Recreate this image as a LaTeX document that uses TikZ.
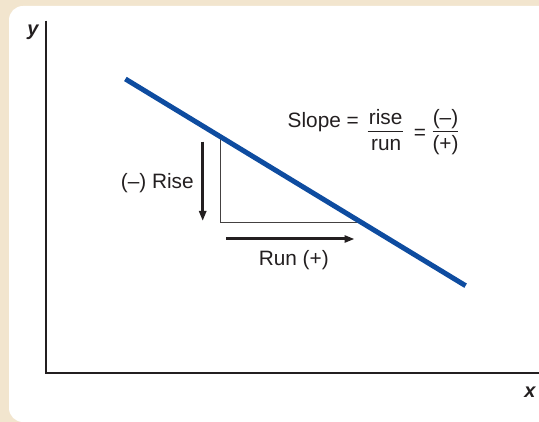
\documentclass[tikz,border=0pt]{standalone}
\usepackage{fontspec}
\setmainfont{Liberation Sans}
\usetikzlibrary{arrows.meta}
\definecolor{beige}{RGB}{242,229,206}
\definecolor{lineblue}{RGB}{14,76,160}
\definecolor{ink}{RGB}{35,31,32}
\begin{document}
\begin{tikzpicture}[x=1pt,y=-1pt,
  axis/.style={draw=ink,line width=2.2pt},
  slopeline/.style={draw=lineblue,line width=5pt},
  thinline/.style={draw=ink!85,line width=1pt},
  bigarrow/.style={draw=ink,line width=3pt,-{Triangle[length=10pt,width=7pt]}},
  fracbar/.style={draw=ink,line width=1.1pt},
  lbl/.style={inner sep=0pt,font=\fontsize{20.8}{24}\selectfont,text=ink},
  axlbl/.style={inner sep=0pt,font=\fontsize{20}{24}\selectfont\bfseries\itshape,text=ink}]
\useasboundingbox (0,0) rectangle (539,422);
\fill[beige] (0,0) rectangle (539,422);
\fill[white,rounded corners=14pt] (570,6) -- (9,6) -- (9,422) -- (570,422) -- cycle;
% axes
\coordinate (ytop) at (45.7,20.7);
\coordinate (xend) at (539,372.7);
\draw[axis] (ytop) |- (xend);
\node[axlbl,anchor=base] (ylab) at (33,35.4) {y};
\node[axlbl,anchor=base] (xlab) at (530,397.3) {x};
% slope line
\coordinate (lstart) at (125.4,79);
\coordinate (lend) at (465.6,285.7);
% triangle
\coordinate (ttop) at (220.6,139.5);
\coordinate (tcorner) at (220.6,222.7);
\coordinate (tright) at (360,222.7);
\draw[thinline] (ttop) -- (tcorner) -- (tright);
\draw[slopeline] (lstart) -- (lend);
% arrows
\coordinate (risetop) at (202.7,141.7);
\coordinate (risebot) at (202.7,221);
\draw[bigarrow] (risetop) -- (risebot);
\coordinate (runleft) at (226,239);
\coordinate (runright) at (354.5,239);
\draw[bigarrow] (runleft) -- (runright);
% labels
\node[lbl,anchor=base] (riselab) at (157.3,189) {(–) Rise};
\node[lbl,anchor=base] (runlab) at (293.8,265.7) {Run (+)};
% formula
\node[lbl,anchor=base west] (slope) at (287.5,127.3) {Slope =};
\node[lbl,anchor=base] (rise) at (385.7,125) {rise};
\node[lbl,anchor=base] (run) at (386.2,151) {run};
\coordinate (b1l) at (367.7,131.7);
\coordinate (b1r) at (403.3,131.7);
\draw[fracbar] (b1l) -- (b1r);
\node[lbl] (eq2) at (420,134) {=};
\node[lbl,anchor=base] (minus) at (445.5,125) {(–)};
\node[lbl,anchor=base] (plus) at (445.5,151) {(+)};
\coordinate (b2l) at (432.7,131.7);
\coordinate (b2r) at (458.3,131.7);
\draw[fracbar] (b2l) -- (b2r);
\end{tikzpicture}
\end{document}
